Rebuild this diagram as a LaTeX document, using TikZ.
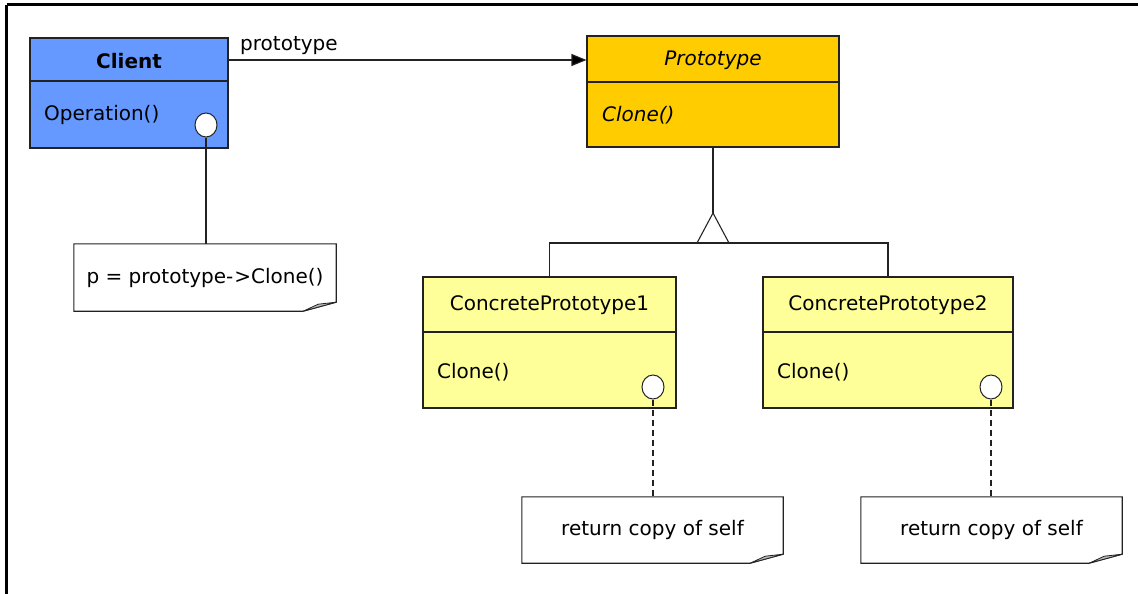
\documentclass[tikz,border=0pt]{standalone}
\usepackage{fontspec}
\setmainfont{DejaVu Sans}
\usetikzlibrary{arrows.meta,shapes.geometric}
\definecolor{clientblue}{HTML}{6699FF}
\definecolor{protoyellow}{HTML}{FFCC00}
\definecolor{concyellow}{HTML}{FFFF99}
\definecolor{linegray}{HTML}{222222}
\begin{document}
\begin{tikzpicture}[x=1pt,y=-1pt,
  every node/.style={font=\fontsize{20}{24}\selectfont, inner sep=0pt},
  umlbox/.style={draw=linegray, line width=1.1pt, rectangle},
  attach/.style={ellipse, draw=linegray, fill=white, line width=1pt, minimum width=22pt, minimum height=24pt},
  conn/.style={draw=linegray, line width=1.1pt},
  dashconn/.style={draw=linegray, line width=1.1pt, dash pattern=on 6pt off 4pt},
  method/.style={anchor=west},
]
\useasboundingbox (0,0) rectangle (1138,594);
\fill[white] (0,0) rectangle (1138,594);
% frame
\draw[line width=3pt] (6.5,5) -- (1138,5);
\draw[line width=3pt] (6.5,5) -- (6.5,594);

% Client
\node[umlbox, fill=clientblue, minimum width=198pt, minimum height=110pt] (client) at (129,93) {};
\draw[conn] (30,81) -- (228,81);
\node (clienttitle) at (129,61) {\bfseries Client};
\node[method] (op) at (44,115) {Operation()};

% Prototype
\node[umlbox, fill=protoyellow, minimum width=252pt, minimum height=111pt] (proto) at (713,91.5) {};
\draw[conn] (587,82) -- (839,82);
\node (prototitle) at (713,60) {\itshape Prototype};
\node[method] (pclone) at (602,115) {\itshape Clone()};

% association
\draw[conn, -{Triangle[length=15pt,width=12pt,fill=black]}] (client.east |- 0,60) -- (proto.west |- 0,60);
\node[anchor=south west] (assoclabel) at (240,55) {prototype};

% Concrete prototypes
\node[umlbox, fill=concyellow, minimum width=253pt, minimum height=131pt] (cp1) at (549.5,342.5) {};
\draw[conn] (423,332) -- (676,332);
\node (cp1title) at (549.5,305) {ConcretePrototype1};
\node[method] (cp1clone) at (437,372) {Clone()};

\node[umlbox, fill=concyellow, minimum width=250pt, minimum height=131pt] (cp2) at (888,342.5) {};
\draw[conn] (763,332) -- (1013,332);
\node (cp2title) at (888,305) {ConcretePrototype2};
\node[method] (cp2clone) at (777,372) {Clone()};

% inheritance
\coordinate (apex) at (713,213);
\coordinate (bl) at (697,243);
\coordinate (br) at (729,243);
\draw[conn] (proto.south) -- (apex);
\draw[conn, line join=miter] (bl) -- (apex) -- (br);
\draw[conn] (cp1.north) -- (cp1.north |- bl) -- (cp2.north |- bl) -- (cp2.north);

% notes
\newcommand{\notepath}[1]{%
  \draw[draw=linegray, line width=1.1pt, fill=white]
    (#1.north west) -- (#1.north east) -- ([yshift=9pt]#1.south east)
    -- ([xshift=-33pt]#1.south east) -- (#1.south west) -- cycle;
  \fill[gray!55, draw=linegray, line width=0.8pt]
    ([xshift=-33pt]#1.south east) -- ([xshift=-18pt,yshift=7pt]#1.south east)
    -- ([yshift=9pt]#1.south east) -- cycle;
}
\node[minimum width=262pt, minimum height=67pt] (note1) at (205,277.5) {};
\notepath{note1}
\node at (note1.center) {p = prototype-\kern1pt>Clone()};

\node[minimum width=261pt, minimum height=66pt] (note2) at (652.5,530) {};
\notepath{note2}
\node at (note2.center) {return copy of self};

\node[minimum width=261pt, minimum height=66pt] (note3) at (991.5,530) {};
\notepath{note3}
\node at (note3.center) {return copy of self};

% attachment points and connectors
\node[attach] (c1) at (206,125) {};
\node[attach] (c2) at (653,387) {};
\node[attach] (c3) at (991,387) {};
\draw[conn] (c1.south) -- (c1.south |- note1.north);
\draw[dashconn] (c2.south) -- (c2.south |- note2.north);
\draw[dashconn] (c3.south) -- (c3.south |- note3.north);
\end{tikzpicture}
\end{document}
